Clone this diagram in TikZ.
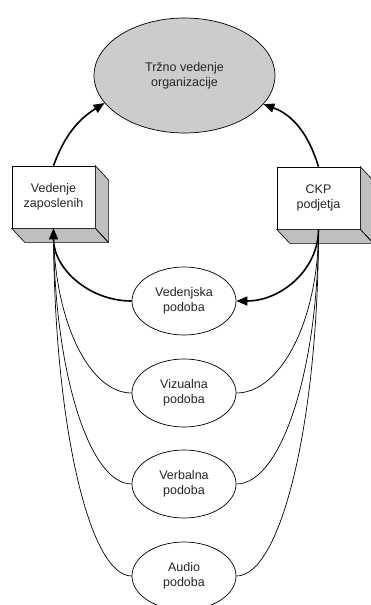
\documentclass[tikz,border=0pt]{standalone}
\usepackage{fontspec}
\setmainfont{Liberation Sans}
\usetikzlibrary{shapes.geometric,arrows.meta,calc}

% extrusion of the 3D boxes
\newcommand\boxdx{13}
\newcommand\boxdy{-14}
\newcommand\drawdepth[1]{%
  \filldraw[face] (#1.north east) -- ++(\boxdx,\boxdy)
    -- ($(#1.south east)+(\boxdx,\boxdy)$) -- (#1.south east) -- cycle;
  \filldraw[face] (#1.south west) -- (#1.south east)
    -- ($(#1.south east)+(\boxdx,\boxdy)$) -- ($(#1.south west)+(\boxdx,\boxdy)$) -- cycle;
  \draw[thin] (#1.south east) -- ++(\boxdx,\boxdy);
}

\tikzset{
  txt/.style={font=\fontsize{12.5}{15}\selectfont, align=center, text=black!85},
  face/.style={fill=black!25, draw=black, line width=0.6pt},
  frontbox/.style={txt, draw=black, fill=white, line width=0.6pt,
    minimum width=83pt, minimum height=62pt, inner sep=0pt},
  oval/.style={txt, ellipse, draw=black, fill=white, line width=0.7pt,
    minimum width=104pt, minimum height=68pt, inner sep=0pt},
  goal/.style={oval, fill=black!20, minimum width=181pt, minimum height=115pt},
  mainarrow/.style={line width=1.6pt, -{Triangle[length=11pt,width=9pt]}},
  thinlink/.style={line width=0.7pt},
}

\begin{document}
\begin{tikzpicture}[x=1pt,y=1pt]
\useasboundingbox (0,0) rectangle (371,-605);
\clip (0,0) rectangle (371,-605);

% goal
\node[goal] (goal) at (184.5,-75.5) {Tržno vedenje\\organizacije};

% the two boxes
\node[frontbox] (emp) at (53.5,-197) {Vedenje\\zaposlenih};
\drawdepth{emp}
\node[frontbox] (ckp) at (318.5,-198) {CKP\\podjetja};
\drawdepth{ckp}

% image ellipses
\node[oval] (ved) at (184,-301) {Vedenjska\\podoba};
\node[oval] (viz) at (184,-393) {Vizualna\\podoba};
\node[oval] (ver) at (184,-484) {Verbalna\\podoba};
\node[oval] (aud) at (184,-576) {Audio\\podoba};

% links to the goal
\draw[mainarrow] (emp.north) to[out=70, in=212] (goal.199.5);
\draw[mainarrow] (ckp.north) to[out=107, in=340] (goal.340.4);

% main loop through the behaviour image
\draw[mainarrow] (ckp.south) to[out=-90, in=0, out distance=40pt, in distance=45pt] (ved.east);
\draw[mainarrow] (ved.west) to[out=180, in=-90, out distance=43pt, in distance=40pt] (emp.south);

% thin links from both boxes to the other images
\draw[thinlink] (emp.south) to[out=-90, in=180, out distance=91pt, in distance=43pt] (viz.west);
\draw[thinlink] (emp.south) to[out=-90, in=180, out distance=141pt, in distance=43pt] (ver.west);
\draw[thinlink] (emp.south) to[out=-90, in=180, out distance=192pt, in distance=43pt] (aud.west);
\draw[thinlink] (ckp.south) to[out=-90, in=0, out distance=90pt, in distance=45pt] (viz.east);
\draw[thinlink] (ckp.south) to[out=-90, in=0, out distance=140pt, in distance=45pt] (ver.east);
\draw[thinlink] (ckp.south) to[out=-90, in=0, out distance=191pt, in distance=45pt] (aud.east);
\end{tikzpicture}
\end{document}
